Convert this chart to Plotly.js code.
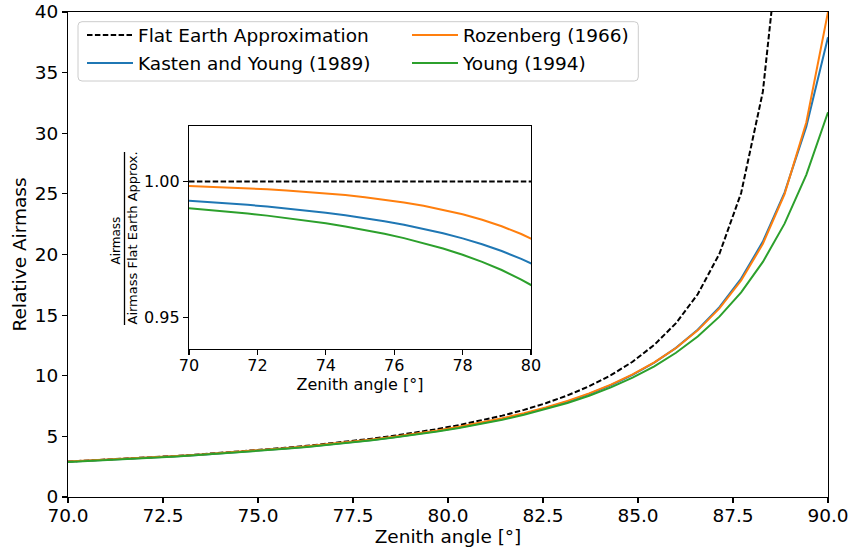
<!DOCTYPE html>
<html>
<head>
<meta charset="utf-8">
<script src="https://cdn.plot.ly/plotly-3.0.1.min.js"></script>
<style>html,body{margin:0;padding:0;background:#fff}#chart{width:851px;height:554px}</style>
</head>
<body>
<div id="chart"></div>
<script>
// Zenith angles (degrees)
const zenith = [70, 70.5714, 71.1429, 71.7143, 72.2857, 72.8571, 73.4286, 74, 74.5714, 75.1429,
  75.7143, 76.2857, 76.8571, 77.4286, 78, 78.5714, 79.1429, 79.7143, 80.2857, 80.8571,
  81.4286, 82, 82.5714, 83.1429, 83.7143, 84.2857, 84.8571, 85.4286, 86, 86.5714,
  87.1429, 87.7143, 88.2857, 88.8571, 89.4286, 90];

// Relative airmass values
const flatEarth = [2.92380, 3.00633, 3.09397, 3.18719, 3.28654, 3.39265, 3.50617, 3.62796, 3.75887, 3.90000,
  4.05255, 4.21797, 4.39792, 4.59438, 4.80973, 5.04679, 5.30896, 5.60045, 5.92645, 6.29339,
  6.70952, 7.18530, 7.73455, 8.37556, 9.13359, 10.04339, 11.15573, 12.54689, 14.33559, 16.72129,
  20.06179, 25.07397, 33.42693, 50.1354, 100.271, null];
const kastenYoung = [2.90315, 2.98369, 3.06911, 3.15980, 3.25628, 3.35911, 3.46890, 3.58638, 3.71232, 3.84769,
  3.99352, 4.15105, 4.32172, 4.50716, 4.70933, 4.93054, 5.17349, 5.44146, 5.73841, 6.06906,
  6.43937, 6.85654, 7.32969, 7.87032, 8.49338, 9.21784, 10.06926, 11.08196, 12.30215, 13.79501,
  15.65286, 18.00982, 21.06171, 25.10040, 30.54414, 37.91958];
const rozenberg = [2.91885, 3.00052, 3.08715, 3.17916, 3.27707, 3.38144, 3.49289, 3.61216, 3.74004, 3.87748,
  4.02554, 4.18544, 4.35863, 4.54673, 4.75170, 4.97579, 5.22168, 5.49258, 5.79233, 6.12555,
  6.49797, 6.91651, 7.38991, 7.92908, 8.54824, 9.26532, 10.10445, 11.09819, 12.29068, 13.74510,
  15.55350, 17.85593, 20.87434, 24.98694, 30.88756, 40.0];
const young = [2.89513, 2.97505, 3.05979, 3.14972, 3.24535, 3.34724, 3.45598, 3.57229, 3.69690, 3.83072,
  3.97483, 4.13036, 4.29874, 4.48150, 4.68054, 4.89803, 5.13658, 5.39915, 5.68961, 6.01229,
  6.37273, 6.77730, 7.23449, 7.75434, 8.34970, 9.03711, 9.83746, 10.77888, 11.89713, 13.24014,
  14.87259, 16.88170, 19.38566, 22.54290, 26.56790, 31.73487];

const seriesNames = ['Flat Earth Approximation', 'Kasten and Young (1989)', 'Rozenberg (1966)', 'Young (1994)'];
const xTicksMain = [70, 72.5, 75, 77.5, 80, 82.5, 85, 87.5, 90];
const yTicksMain = [0, 5, 10, 15, 20, 25, 30, 35, 40];
const xTicksInset = [70, 72, 74, 76, 78, 80];
const yTicksInset = [0.95, 1.00];

const colors = ['#000000', '#1f77b4', '#ff7f0e', '#2ca02c'];
const data = [flatEarth, kastenYoung, rozenberg, young];
const legendOf = ['legend', 'legend', 'legend2', 'legend2'];
const dashStyle = '5.5px,2.4px';

const traces = [];
data.forEach((ys, k) => {
  traces.push({
    x: zenith, y: ys, type: 'scatter', mode: 'lines', name: seriesNames[k],
    line: {color: colors[k], width: 2, dash: k === 0 ? dashStyle : 'solid'},
    xaxis: 'x', yaxis: 'y', legend: legendOf[k], legendgroup: 'g' + k,
    hoverinfo: 'skip'
  });
});
data.forEach((ys, k) => {
  const ratio = ys.map((v, i) => (v === null || flatEarth[i] === null) ? null : v / flatEarth[i]);
  traces.push({
    x: zenith, y: ratio, type: 'scatter', mode: 'lines', showlegend: false,
    line: {color: colors[k], width: 2, dash: k === 0 ? dashStyle : 'solid'},
    xaxis: 'x2', yaxis: 'y2', hoverinfo: 'skip'
  });
});

// pixel helpers for the paper coordinate system
const L = 68, R = 828, T = 12, B = 497;
const px = v => (v - L) / (R - L);
const py = v => (B - v) / (B - T);

const axisCommon = {
  showgrid: false, zeroline: false, showline: true, linecolor: '#000', linewidth: 1.1,
  mirror: true, ticks: 'outside', ticklen: 5, tickwidth: 1.1, tickcolor: '#000'
};

function roundRect(x0, y0, x1, y1, r) {
  const X0 = px(x0), X1 = px(x1), Y0 = py(y1), Y1 = py(y0);
  const rx = r / (R - L), ry = r / (B - T);
  return `M${X0 + rx},${Y0} L${X1 - rx},${Y0} Q${X1},${Y0} ${X1},${Y0 + ry} L${X1},${Y1 - ry} Q${X1},${Y1} ${X1 - rx},${Y1} L${X0 + rx},${Y1} Q${X0},${Y1} ${X0},${Y1 - ry} L${X0},${Y0 + ry} Q${X0},${Y0} ${X0 + rx},${Y0} Z`;
}

const legendCommon = {
  orientation: 'v', xanchor: 'left', yanchor: 'top', bgcolor: 'rgba(0,0,0,0)', borderwidth: 0,
  font: {size: 18.5, family: 'DejaVu Sans', color: '#000'}, itemwidth: 46, tracegroupgap: 1,
  itemclick: false, itemdoubleclick: false
};

const layout = {
  width: 851, height: 554,
  margin: {l: L, r: 851 - R, t: T, b: 554 - B, pad: 0},
  paper_bgcolor: '#fff', plot_bgcolor: '#fff',
  font: {family: 'DejaVu Sans', size: 18.5, color: '#000'},
  showlegend: true,
  xaxis: Object.assign({}, axisCommon, {
    range: [70, 90], tickvals: xTicksMain, tickformat: '.1f', ticklabelstandoff: -3,
    title: {text: 'Zenith angle [°]', standoff: 2, font: {size: 18.5}}, tickfont: {size: 18.5}
  }),
  yaxis: Object.assign({}, axisCommon, {
    range: [0, 40], tickvals: yTicksMain,
    title: {text: 'Relative Airmass', standoff: 3, font: {size: 18.5}}, tickfont: {size: 18.5}
  }),
  xaxis2: Object.assign({}, axisCommon, {
    domain: [px(189), px(531)], anchor: 'y2', range: [70, 80], tickvals: xTicksInset, ticklabelstandoff: -3,
    tickfont: {size: 16}, title: {text: 'Zenith angle [°]', standoff: 2, font: {size: 16}}
  }),
  yaxis2: Object.assign({}, axisCommon, {
    domain: [py(349), py(126)], anchor: 'x2', range: [0.9386, 1.0203], tickvals: yTicksInset,
    tickformat: '.2f', tickfont: {size: 16}
  }),
  legend: Object.assign({}, legendCommon, {x: px(82), y: py(16.5)}),
  legend2: Object.assign({}, legendCommon, {x: px(407), y: py(16.5)}),
  shapes: [
    {type: 'path', xref: 'paper', yref: 'paper', path: roundRect(78, 21.7, 638.3, 81, 4),
     fillcolor: 'rgba(255,255,255,0.8)', line: {color: '#cccccc', width: 1}, layer: 'above'},
    {type: 'line', xref: 'paper', yref: 'paper', x0: px(124.5), x1: px(124.5), y0: py(325), y1: py(152),
     line: {color: '#000', width: 1.3}}
  ],
  annotations: [
    {xref: 'paper', yref: 'paper', x: px(115.5), y: py(241), text: 'Airmass', showarrow: false,
     textangle: -90, xanchor: 'center', yanchor: 'middle', font: {size: 12, color: '#000'}},
    {xref: 'paper', yref: 'paper', x: px(132), y: py(238.5), text: 'Airmass Flat Earth Approx.', showarrow: false,
     textangle: -90, xanchor: 'center', yanchor: 'middle', font: {size: 13, color: '#000'}}
  ]
};

Plotly.newPlot('chart', traces, layout, {staticPlot: true, displayModeBar: false});
</script>
</body>
</html>
